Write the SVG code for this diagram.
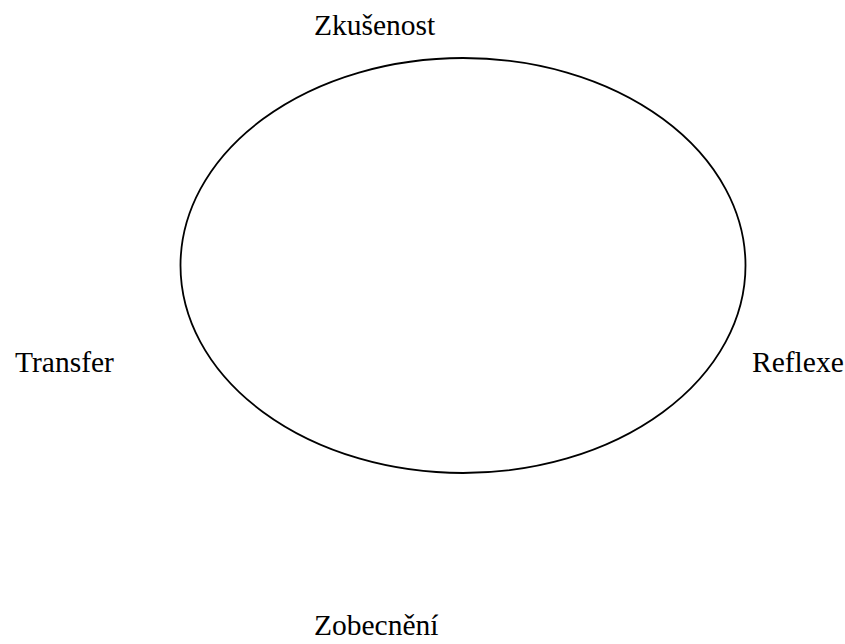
<svg xmlns="http://www.w3.org/2000/svg" width="845" height="644" viewBox="0 0 845 644">
<style>
.lbl{font-family:"Liberation Serif","Times New Roman",serif;font-size:29.5px;fill:#000}
.cyc{fill:none;stroke:#000;stroke-width:1.8}
</style>
<rect width="845" height="644" fill="#fff"/>
<g id="connectors">
<ellipse class="cyc" cx="463" cy="265.5" rx="282.5" ry="207.5"/>
</g>
<g id="zkusenost"><text class="lbl" x="314" y="35">Zkušenost</text></g>
<g id="transfer"><text class="lbl" x="15" y="372">Transfer</text></g>
<g id="reflexe"><text class="lbl" x="752" y="372">Reflexe</text></g>
<g id="zobecneni"><text class="lbl" x="314" y="635">Zobecnění</text></g>
</svg>
